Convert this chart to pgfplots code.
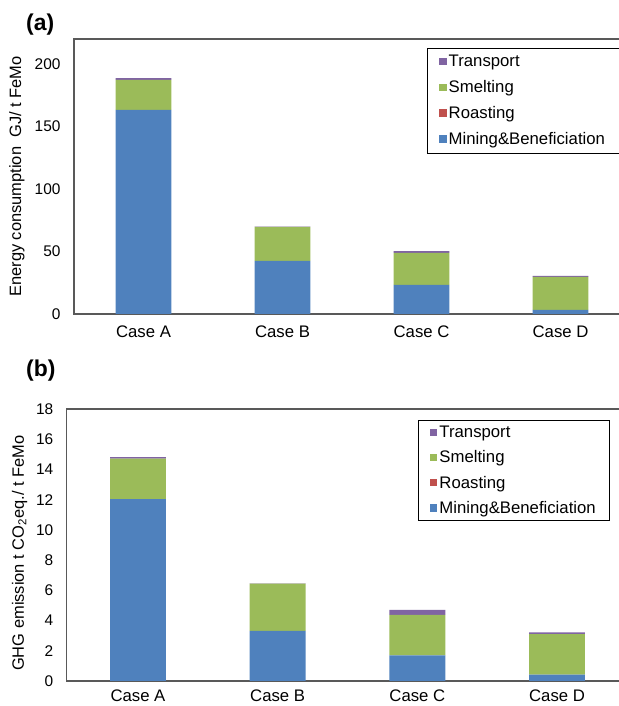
\documentclass[border=0pt]{standalone}
\usepackage{pgfplots}
\pgfplotsset{compat=1.18}
\usepackage{fontspec}
\setmainfont{Liberation Sans}
\definecolor{cMin}{HTML}{4F81BD}
\definecolor{cRoa}{HTML}{C0504D}
\definecolor{cSme}{HTML}{9BBB59}
\definecolor{cTra}{HTML}{8064A2}
\definecolor{axgray}{HTML}{595959}
\pgfplotsset{
  every axis/.append style={
    scale only axis,
    ybar stacked,
    bar width=0.4,
    xtick={0,1,2,3},
    xticklabels={Case A,Case B,Case C,Case D},
    major tick length=0pt,
    axis line style={axgray,line width=1.1pt},
    tick label style={font=\fontsize{15.5}{18}\selectfont},
    yticklabel style={xshift=-10bp},
    xticklabel style={font=\fontsize{16.8}{19}\selectfont},
    /pgf/number format/assume math mode=true,
    label style={font=\fontsize{16.5}{19}\selectfont},
    reverse legend,
    legend cell align=left,
    legend style={draw=black,line width=0.8pt,font=\fontsize{16.8}{19}\selectfont,
      inner xsep=12bp,inner ysep=5bp,row sep=8.3bp,anchor=north west},
    legend image code/.code={\fill[##1] (0bp,-3.5bp) rectangle (7.5bp,4bp);},
  },
}
\begin{document}
\begin{tikzpicture}
\useasboundingbox (0bp,0bp) rectangle (619bp,706bp);
% (a)
\begin{axis}[
  at={(74bp,392bp)}, anchor=south west,
  width=547bp, height=275bp,
  xmin=-0.5, xmax=3.435,
  ymin=0, ymax=220,
  ytick={0,50,100,150,200},
  xticklabel style={yshift=-8bp},
  ylabel={Energy consumption\ \ GJ/ t FeMo},
  ylabel style={at={(axis description cs:0,0.5)},anchor=south,yshift=46bp},
  legend style={at={(axis description cs:0.645,0.967)}},
]
\addplot[fill=cMin,draw=none] coordinates {(0,163.2) (1,42.4) (2,23.2) (3,3.2)};
\addplot[fill=cRoa,draw=none] coordinates {(0,0) (1,0) (2,0) (3,0)};
\addplot[fill=cSme,draw=none] coordinates {(0,24.0) (1,27.2) (2,25.6) (3,26.4)};
\addplot[fill=cTra,draw=none] coordinates {(0,1.4) (1,0.2) (2,1.4) (3,0.9)};
\legend{Mining\&Beneficiation,Roasting,Smelting,Transport}
\end{axis}
\node[anchor=north west,inner sep=0pt,font=\bfseries\fontsize{23}{26}\selectfont] at (26bp,692bp) {(a)};
% (b)
\begin{axis}[
  at={(66.7bp,25bp)}, anchor=south west,
  width=554.3bp, height=272bp,
  xmin=-0.51, xmax=3.458,
  ymin=0, ymax=18,
  ytick={0,2,...,18},
  xticklabel style={yshift=-5bp},
  ylabel={GHG emission t CO\textsubscript{2}eq./ t FeMo},
  ylabel style={at={(axis description cs:0,0.47)},anchor=south,yshift=36bp},
  legend style={at={(axis description cs:0.633,0.96)},row sep=7.6bp,inner ysep=4bp},
]
\addplot[fill=cMin,draw=none] coordinates {(0,12.03) (1,3.31) (2,1.70) (3,0.42)};
\addplot[fill=cRoa,draw=none] coordinates {(0,0) (1,0) (2,0) (3,0)};
\addplot[fill=cSme,draw=none] coordinates {(0,2.69) (1,3.13) (2,2.67) (3,2.69)};
\addplot[fill=cTra,draw=none] coordinates {(0,0.09) (1,0.02) (2,0.33) (3,0.11)};
\legend{Mining\&Beneficiation,Roasting,Smelting,Transport}
\end{axis}
\node[anchor=north west,inner sep=0pt,font=\bfseries\fontsize{23}{26}\selectfont] at (26bp,346bp) {(b)};
\end{tikzpicture}
\end{document}
